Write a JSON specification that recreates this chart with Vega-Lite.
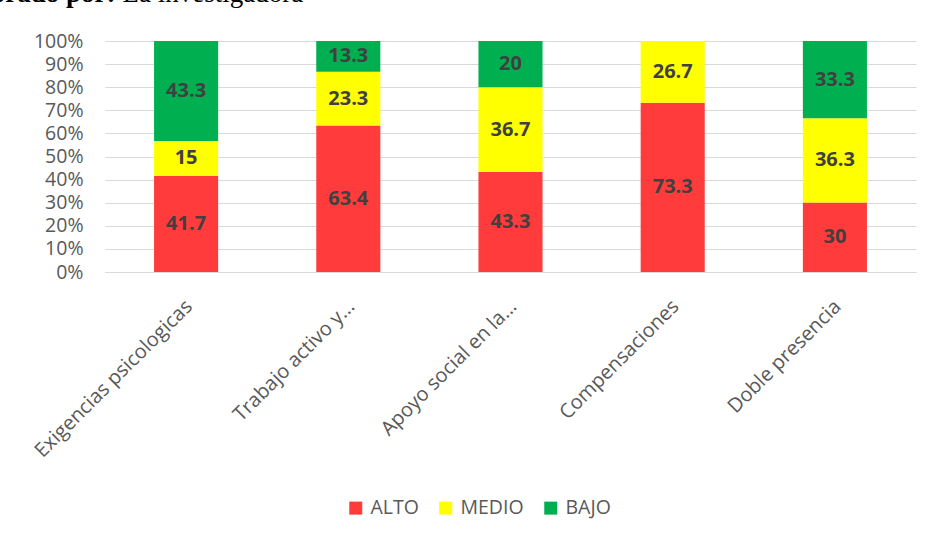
{
  "$schema": "https://vega.github.io/schema/vega-lite/v6.json",
  "width": 811,
  "height": 231,
  "autosize": {"type": "none"},
  "padding": {"left": 105, "top": 41, "right": 18, "bottom": 266},
  "background": "white",
  "data": {
    "values": [
      {"dimension": "Exigencias psicologicas", "nivel": "ALTO", "orden": 1, "valor": 41.7},
      {"dimension": "Exigencias psicologicas", "nivel": "MEDIO", "orden": 2, "valor": 15},
      {"dimension": "Exigencias psicologicas", "nivel": "BAJO", "orden": 3, "valor": 43.3},
      {"dimension": "Trabajo activo y...", "nivel": "ALTO", "orden": 1, "valor": 63.4},
      {"dimension": "Trabajo activo y...", "nivel": "MEDIO", "orden": 2, "valor": 23.3},
      {"dimension": "Trabajo activo y...", "nivel": "BAJO", "orden": 3, "valor": 13.3},
      {"dimension": "Apoyo social en la...", "nivel": "ALTO", "orden": 1, "valor": 43.3},
      {"dimension": "Apoyo social en la...", "nivel": "MEDIO", "orden": 2, "valor": 36.7},
      {"dimension": "Apoyo social en la...", "nivel": "BAJO", "orden": 3, "valor": 20},
      {"dimension": "Compensaciones", "nivel": "ALTO", "orden": 1, "valor": 73.3},
      {"dimension": "Compensaciones", "nivel": "MEDIO", "orden": 2, "valor": 26.7},
      {"dimension": "Doble presencia", "nivel": "ALTO", "orden": 1, "valor": 30},
      {"dimension": "Doble presencia", "nivel": "MEDIO", "orden": 2, "valor": 36.3},
      {"dimension": "Doble presencia", "nivel": "BAJO", "orden": 3, "valor": 33.3}
    ]
  },
  "encoding": {
    "x": {
      "field": "dimension",
      "type": "nominal",
      "sort": ["Exigencias psicologicas", "Trabajo activo y...", "Apoyo social en la...", "Compensaciones", "Doble presencia"],
      "scale": {"paddingInner": 0.605, "paddingOuter": 0.3025},
      "title": "La investigadora",
      "axis": {
        "labelAngle": -45,
        "labelFont": "Open Sans",
        "labelFontSize": 20,
        "labelColor": "#595959",
        "labelLimit": 0,
        "labelOffset": -4,
        "ticks": false,
        "domainColor": "#D9D9D9",
        "labelPadding": 24,
        "titleX": 17,
        "titleY": -271,
        "titleAngle": 0,
        "titleAlign": "left",
        "titleBaseline": "alphabetic",
        "titleFont": "Liberation Serif",
        "titleFontSize": 27,
        "titleFontWeight": "normal",
        "titleColor": "black"
      }
    },
    "y": {
      "field": "valor",
      "type": "quantitative",
      "stack": "normalize",
      "scale": {"domain": [0, 1]},
      "title": "orado por:",
      "axis": {
        "values": [0, 0.1, 0.2, 0.3, 0.4, 0.5, 0.6, 0.7, 0.8, 0.9, 1],
        "format": ".0%",
        "ticks": false,
        "domain": false,
        "labelPadding": 22,
        "labelFont": "Open Sans",
        "labelFontSize": 19.5,
        "labelColor": "#595959",
        "gridColor": "#D9D9D9",
        "titleX": 10,
        "titleY": -40,
        "titleAngle": 0,
        "titleAlign": "right",
        "titleBaseline": "alphabetic",
        "titleFont": "Liberation Serif",
        "titleFontSize": 27,
        "titleFontWeight": "bold",
        "titleColor": "black"
      }
    },
    "order": {"field": "orden", "type": "quantitative"}
  },
  "layer": [
    {
      "mark": {"type": "bar"},
      "encoding": {
        "color": {
          "field": "nivel",
          "type": "nominal",
          "sort": ["ALTO", "MEDIO", "BAJO"],
          "scale": {"domain": ["ALTO", "MEDIO", "BAJO"], "range": ["#FF3B3B", "#FFFF00", "#00B050"]},
          "legend": {
            "orient": "none",
            "legendX": 241,
            "legendY": 457,
            "direction": "horizontal",
            "title": null,
            "symbolType": "square",
            "symbolSize": 169,
            "symbolStrokeWidth": 0,
            "labelFont": "Open Sans",
            "labelFontSize": 19.5,
            "labelColor": "#595959",
            "columnPadding": 17,
            "labelOffset": 5
          }
        }
      }
    },
    {
      "mark": {"type": "text", "font": "Open Sans", "fontSize": 20, "fontWeight": "bold", "color": "#404040"},
      "encoding": {
        "y": {"field": "valor", "type": "quantitative", "stack": "normalize", "bandPosition": 0.5},
        "detail": {"field": "nivel", "type": "nominal"},
        "text": {"field": "valor", "type": "quantitative"}
      }
    }
  ],
  "config": {"view": {"stroke": null}}
}
